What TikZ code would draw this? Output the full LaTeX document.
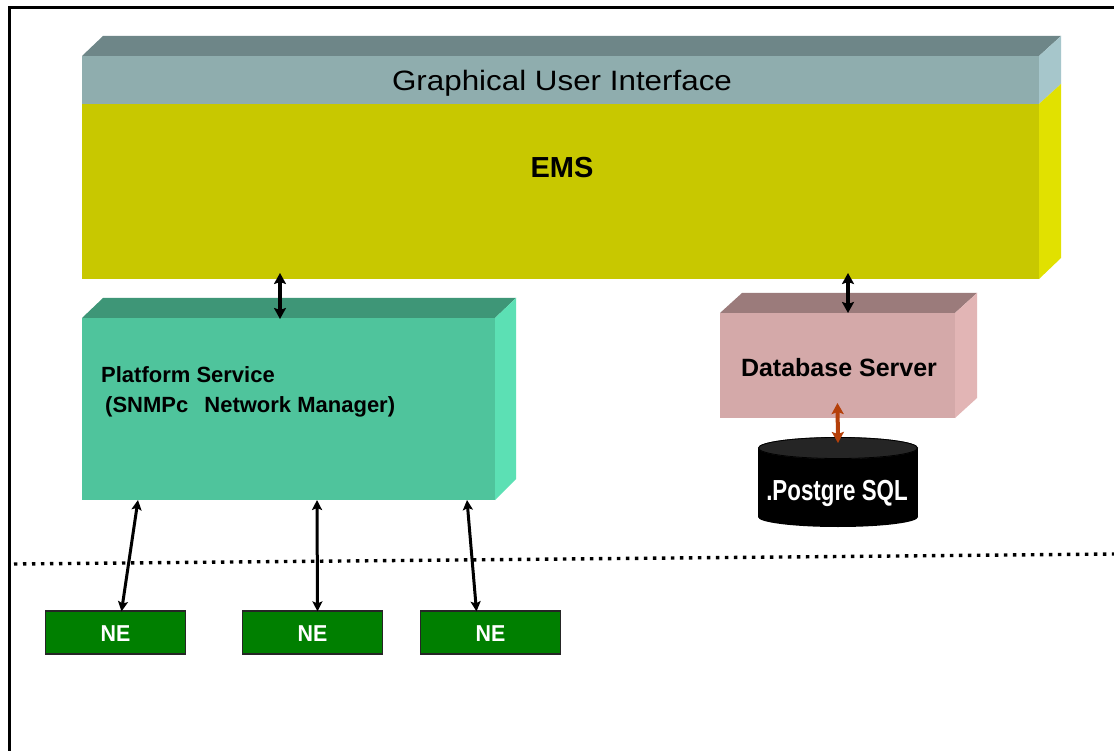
\documentclass[tikz,border=0pt]{standalone}
\usepackage{fontspec}
\setmainfont{Liberation Sans}
\usepackage{graphicx}
\usetikzlibrary{arrows.meta}
\definecolor{guitop}{HTML}{6E8688}
\definecolor{guifront}{HTML}{8FADAE}
\definecolor{guiside}{HTML}{A6C6CB}
\definecolor{emsfront}{HTML}{C8C800}
\definecolor{emsside}{HTML}{E1E100}
\definecolor{pstop}{HTML}{3E9677}
\definecolor{psfront}{HTML}{4FC49C}
\definecolor{psside}{HTML}{5CE0B4}
\definecolor{dbtop}{HTML}{9B7B7B}
\definecolor{dbfront}{HTML}{D4A9A9}
\definecolor{dbside}{HTML}{E2B5B5}
\definecolor{negreen}{HTML}{007F00}
\definecolor{pgarrow}{HTML}{B5400A}
\definecolor{cyltop}{HTML}{252525}
\tikzset{
  face/.style={inner sep=0pt, outer sep=0pt, anchor=north west, draw=none},
  lbl/.style={inner sep=0pt, outer sep=0pt, anchor=base, text=black},
  nebox/.style={draw=black!85, line width=1.2pt, fill=negreen, minimum width=140pt, minimum height=43pt, inner sep=0pt},
  biarrow/.style={line width=4pt, {Stealth[length=11pt,width=12pt,inset=2pt]}-{Stealth[length=11pt,width=12pt,inset=2pt]}},
  nearrow/.style={line width=3pt, {Stealth[length=10pt,width=10pt,inset=2pt]}-{Stealth[length=10pt,width=10pt,inset=2pt]}},
}
\begin{document}
\begin{tikzpicture}[x=1pt,y=-1pt]
\useasboundingbox (0,0) rectangle (1114,751);
\fill[white] (0,0) rectangle (1114,751);
% frame (only top and left visible)
\draw[line width=3pt] (9,751) -- (9,8) -- (1114,8);

% GUI / EMS block
\fill[guitop] (82,56) -- (103,36) -- (1061,36) -- (1039,56) -- cycle;
\fill[guiside] (1039,56) -- (1061,36) -- (1061,84) -- (1039,104) -- cycle;
\fill[emsside] (1039,104) -- (1061,84) -- (1061,258) -- (1039,279) -- cycle;
\node[face, fill=guifront, minimum width=957pt, minimum height=48pt] (gui) at (82,56) {};
\node[face, fill=emsfront, minimum width=957pt, minimum height=175pt] (ems) at (82,104) {};
\node[lbl] (guitext) at (562,91) {\scalebox{1.12}[1]{\fontsize{28}{32}\selectfont Graphical User Interface}};
\node[lbl] (emstext) at (562,178) {\fontsize{29}{34}\selectfont\bfseries EMS};

% Platform service block
\fill[pstop] (82,318) -- (103,298) -- (516,298) -- (495,318) -- cycle;
\fill[psside] (495,318) -- (516,298) -- (516,479) -- (495,500) -- cycle;
\node[face, fill=psfront, minimum width=413pt, minimum height=182pt] (ps) at (82,318) {};
\node[inner sep=0pt, anchor=base west, align=left, font=\fontsize{22}{30}\selectfont\bfseries] (pstext) at (101,412)
  {Platform Service\\\hspace*{4pt}(SNMPc\hspace{10pt} Network Manager)};

% Database server block
\fill[dbtop] (720,313) -- (742,293) -- (977,293) -- (955,313) -- cycle;
\fill[dbside] (955,313) -- (977,293) -- (977,398) -- (955,418) -- cycle;
\node[face, fill=dbfront, minimum width=235pt, minimum height=105pt] (db) at (720,313) {};
\node[lbl] (dbtext) at (839,376) {\fontsize{25}{30}\selectfont\bfseries Database Server};

% PostgreSQL cylinder
\fill[black] (838,517) ellipse [x radius=80, y radius=10];
\fill[black] (758,448) rectangle (918,517);
\fill[cyltop] (838,448) ellipse [x radius=80, y radius=11];
\draw[black, line width=0.8pt] (838,448) ellipse [x radius=79.5, y radius=10.5];
\node[lbl, text=white] (pg) at (837,500) {\scalebox{0.77}[1]{\fontsize{29}{34}\selectfont\bfseries .Postgre SQL}};
\coordinate (pgtop) at (838,443);

% NE boxes
\node[nebox] (ne1) at (115.5,632.5) {};
\node[nebox] (ne2) at (312.5,632.5) {};
\node[nebox] (ne3) at (490.5,632.5) {};
\node[lbl, text=white] (ne1t) at (ne1.center |- 0,641) {\scalebox{0.93}[1]{\fontsize{23}{26}\selectfont\bfseries NE}};
\node[lbl, text=white] (ne2t) at (ne2.center |- 0,641) {\scalebox{0.93}[1]{\fontsize{23}{26}\selectfont\bfseries NE}};
\node[lbl, text=white] (ne3t) at (ne3.center |- 0,641) {\scalebox{0.93}[1]{\fontsize{23}{26}\selectfont\bfseries NE}};

% dotted separator
\draw[line width=3.4pt, dash pattern=on 3.4pt off 5.6pt] (14,564) -- (1114,554);

% connectors
\draw[biarrow] ([xshift=-8.5pt,yshift=6pt]ems.south -| ps.north) -- ([xshift=-8.5pt,yshift=-1pt]ps.north);
\draw[biarrow] ([xshift=10.5pt,yshift=6pt]db.north |- ems.south) -- ([xshift=10.5pt]db.north);
\draw[biarrow, draw=pgarrow, fill=pgarrow] ([yshift=15pt]db.south) -- (pgtop);
\draw[nearrow] ([xshift=-150.5pt]ps.south) -- ([xshift=6pt,yshift=-1pt]ne1.north);
\draw[nearrow] ([xshift=28.5pt]ps.south) -- ([xshift=5pt,yshift=-1pt]ne2.north);
\draw[nearrow] ([xshift=178.5pt]ps.south) -- ([xshift=-14pt,yshift=-1pt]ne3.north);
\end{tikzpicture}
\end{document}
